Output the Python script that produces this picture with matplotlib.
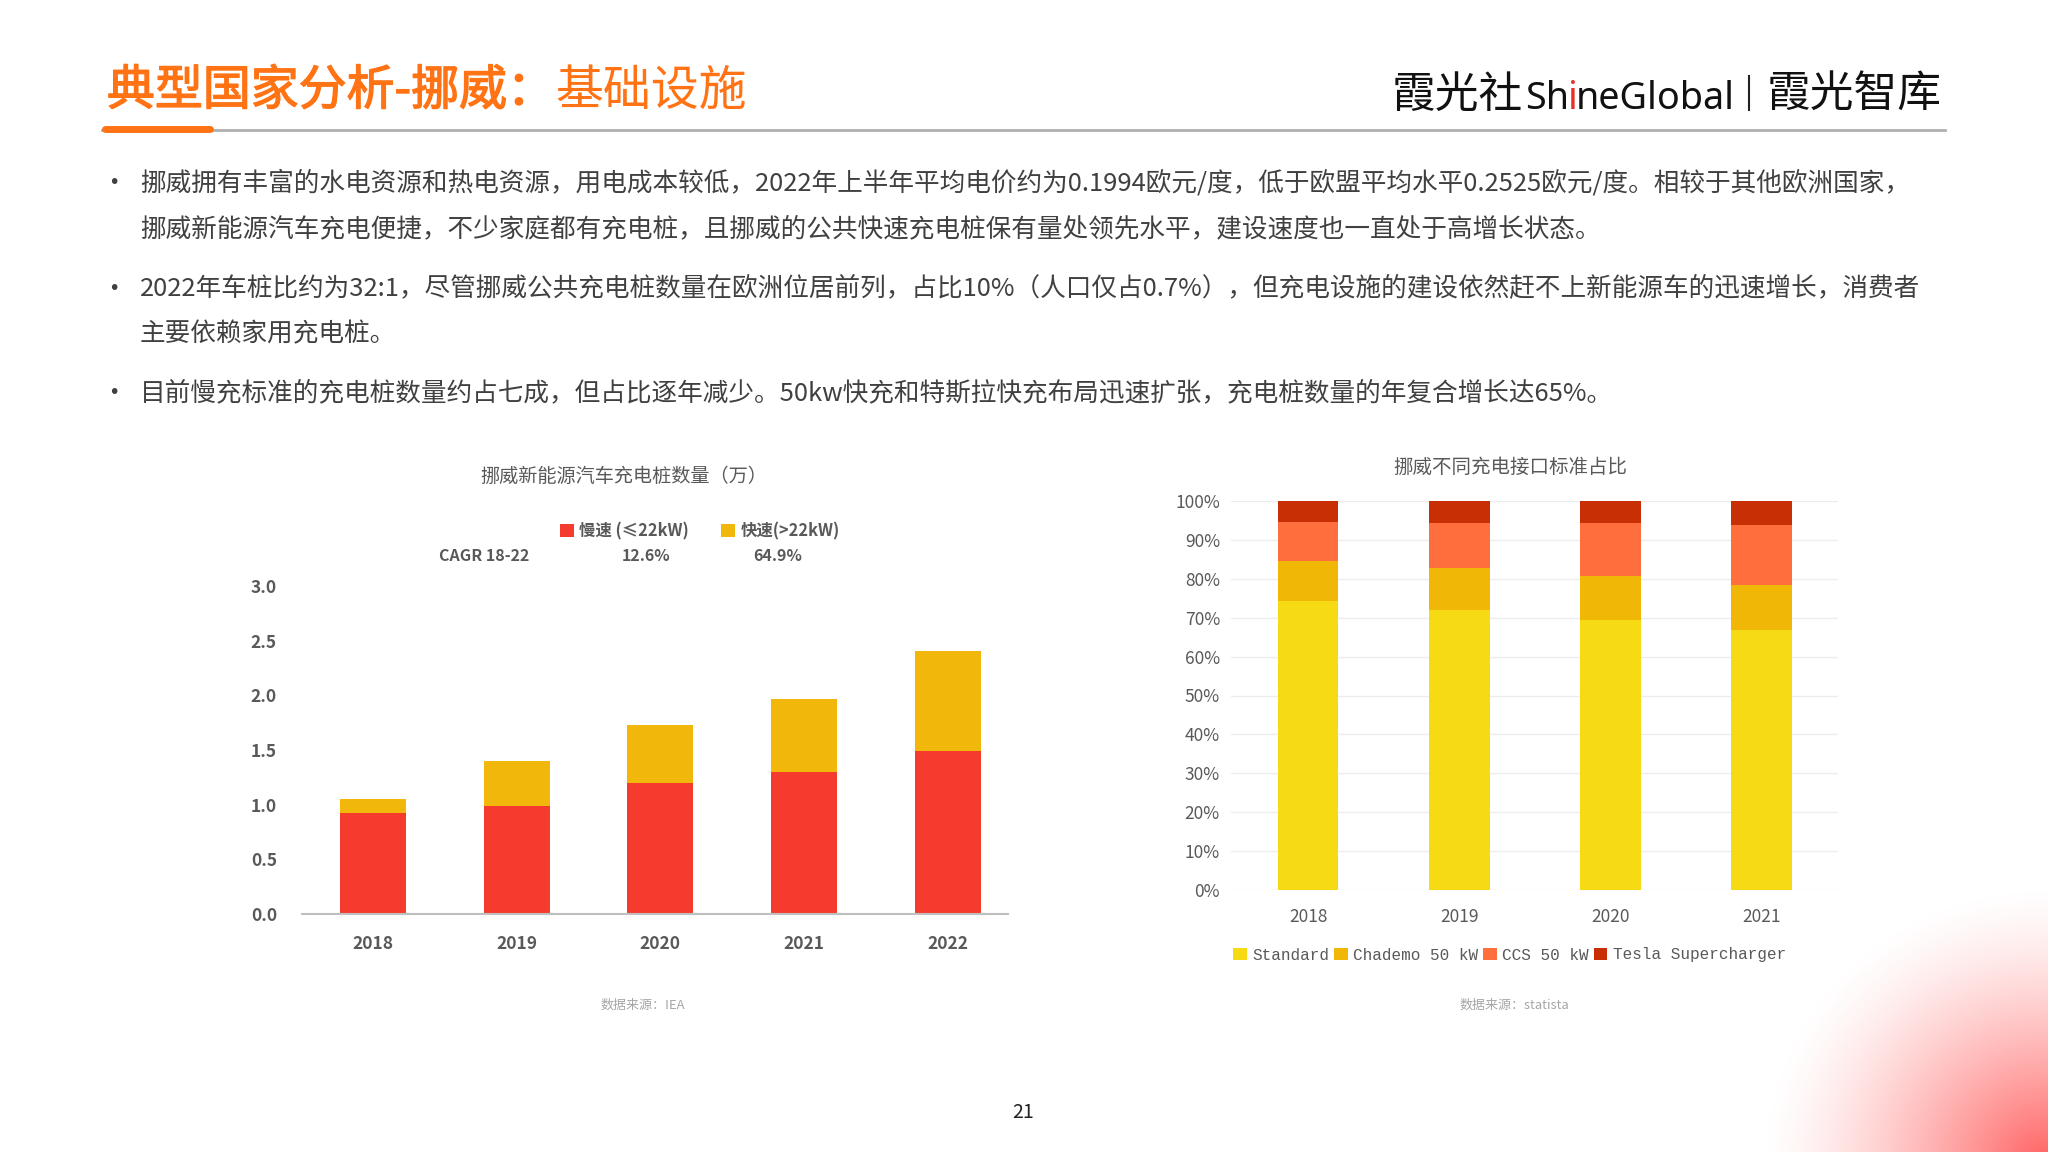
import numpy as np
import matplotlib.pyplot as plt
import matplotlib.patheffects as pe

plt.rcParams["font.family"] = ["Noto Sans CJK SC", "DejaVu Sans"]

W, H = 2048, 1152
ORANGE = "#FF7314"
TEXT = "#404040"
GRAY = "#595959"

# -----------------------------
# Data
# -----------------------------
years_left = ["2018", "2019", "2020", "2021", "2022"]
slow = [0.92, 0.99, 1.195, 1.30, 1.49]
fast = [0.13, 0.41, 0.535, 0.67, 0.92]

years_right = ["2018", "2019", "2020", "2021"]
shares = {
    "Standard": ([74.3, 72.0, 69.3, 66.8], "#F6DA14"),
    "Chademo 50 kW": ([10.3, 10.8, 11.4, 11.7], "#F1B707"),
    "CCS 50 kW": ([10.1, 11.5, 13.6, 15.4], "#FF6E3D"),
    "Tesla Supercharger": ([5.3, 5.7, 5.7, 6.1], "#C92F05"),
}

bullets = [
    (183, "挪威拥有丰富的水电资源和热电资源，用电成本较低，2022年上半年平均电价约为0.1994欧元/度，低于欧盟平均水平0.2525欧元/度。相较于其他欧洲国家，"),
    (229, "挪威新能源汽车充电便捷，不少家庭都有充电桩，且挪威的公共快速充电桩保有量处领先水平，建设速度也一直处于高增长状态。"),
    (288, "2022年车桩比约为32:1，尽管挪威公共充电桩数量在欧洲位居前列，占比10%（人口仅占0.7%），但充电设施的建设依然赶不上新能源车的迅速增长，消费者"),
    (334, "主要依赖家用充电桩。"),
    (393, "目前慢充标准的充电桩数量约占七成，但占比逐年减少。50kw快充和特斯拉快充布局迅速扩张，充电桩数量的年复合增长达65%。"),
]


def axes_px(fig, left, top, right, bottom):
    return fig.add_axes([left / W, 1 - bottom / H, (right - left) / W, (bottom - top) / H])


fig = plt.figure(figsize=(20.48, 11.52), dpi=100)

# -----------------------------
# Page background, text, header
# -----------------------------
page = axes_px(fig, 0, 0, W, H)
page.axis("off")

xx, yy = np.meshgrid(np.arange(W), np.arange(H))
dist = np.sqrt(((xx - 2045) / 285.0) ** 2 + ((yy - 1165) / 280.0) ** 2)
glow = np.zeros((H, W, 4))
glow[..., :3] = (1.0, 0.38, 0.38)
glow[..., 3] = np.clip(1 - dist, 0, 1) ** 1.4
page.imshow(glow, extent=(0, W, H, 0), aspect="auto", zorder=0)
page.set_xlim(0, W)
page.set_ylim(H, 0)

page.plot([102, 1945], [130, 130], color="#B0B0B0", lw=2, zorder=1)
page.plot([105, 210], [129, 129], color=ORANGE, lw=5, solid_capstyle="round", zorder=2)

page.text(107, 91, "典型国家分析-挪威：", color=ORANGE, fontsize=34.5, va="center",
          path_effects=[pe.withStroke(linewidth=1.0, foreground=ORANGE)])
page.text(555, 91, "基础设施", color=ORANGE, fontsize=34.5, va="center")

for y, line in bullets:
    page.text(140, y, line, color=TEXT, fontsize=18.45, va="center")
for y in [183, 288, 393]:
    page.text(114, y, "•", color=TEXT, fontsize=14, va="center", ha="center", family="DejaVu Sans")

# logo
page.text(1392, 95, "霞光社", color="#111111", fontsize=31.5, va="center")
page.text(1525, 99, "Sh", color="#111111", fontsize=27.2, va="center", family="Noto Sans", weight="light")
page.text(1568, 99, "i", color="#E8302A", fontsize=27.2, va="center", family="Noto Sans", weight="light")
page.text(1576, 99, "neGlobal", color="#111111", fontsize=27.2, va="center", family="Noto Sans", weight="light")
page.plot([1749, 1749], [76, 110], color="#222222", lw=1.5)
page.text(1767, 95, "霞光智库", color="#111111", fontsize=31.5, va="center")

page.text(624, 476, "挪威新能源汽车充电桩数量（万）", color=GRAY, fontsize=13.8, ha="center", va="center")
page.text(1510, 467, "挪威不同充电接口标准占比", color=GRAY, fontsize=14, ha="center", va="center")
page.text(643, 1005, "数据来源：IEA", color="#A6A6A6", fontsize=9.4, ha="center", va="center")
page.text(1514, 1005, "数据来源：statista", color="#A6A6A6", fontsize=9.4, ha="center", va="center")
page.text(1023, 1113, "21", color="#222222", fontsize=14, ha="center", va="center")

for x, label in [(484, "CAGR 18-22"), (646, "12.6%"), (778, "64.9%")]:
    page.text(x, 556, label, color=GRAY, fontsize=11.5, weight="bold", ha="center", va="center")

# -----------------------------
# Left chart: charger count
# -----------------------------
ax1 = axes_px(fig, 302, 586, 1008, 914)
ax1.patch.set_alpha(0)
x1 = np.arange(len(years_left))
ax1.bar(x1, slow, width=0.46, color="#F53B2E", label="慢速 (≤22kW)")
ax1.bar(x1, fast, width=0.46, bottom=slow, color="#F1B70A", label="快速(>22kW)")
ax1.set_xlim(-0.495, 4.42)
ax1.set_ylim(0, 3.0)
ax1.set_yticks(np.arange(0, 3.01, 0.5))
ax1.set_xticks(x1, years_left)
ax1.tick_params(axis="both", length=0, labelsize=12.5, labelcolor=GRAY)
ax1.tick_params(axis="y", pad=18)
ax1.tick_params(axis="x", pad=15)
for lab in ax1.get_xticklabels() + ax1.get_yticklabels():
    lab.set_fontweight("bold")
for side in ["top", "right", "left"]:
    ax1.spines[side].set_visible(False)
ax1.spines["bottom"].set_color("#BFBFBF")
ax1.spines["bottom"].set_linewidth(1.5)
leg1 = ax1.legend(
    loc="center left", bbox_to_anchor=(560 / W, 1 - 531 / H), bbox_transform=fig.transFigure,
    ncol=2, frameon=False, handlelength=0.85, handleheight=0.85, handletextpad=0.3,
    columnspacing=2.0, borderpad=0, borderaxespad=0, prop={"size": 11.8, "weight": "bold"},
)
for t in leg1.get_texts():
    t.set_color(GRAY)

# -----------------------------
# Right chart: connector share
# -----------------------------
ax2 = axes_px(fig, 1231, 501, 1838, 890)
ax2.patch.set_alpha(0)
x2 = np.arange(len(years_right))
bottom = np.zeros(len(years_right))
for name, (vals, colour) in shares.items():
    ax2.bar(x2, vals, width=0.4, bottom=bottom, color=colour, label=name, zorder=3)
    bottom += np.array(vals)
ax2.set_xlim(-0.51, 3.505)
ax2.set_ylim(0, 100)
ax2.set_yticks(np.arange(0, 101, 10))
ax2.set_yticklabels([f"{v}%" for v in range(0, 101, 10)])
ax2.set_xticks(x2, years_right)
ax2.tick_params(axis="both", length=0, labelsize=12.5, labelcolor=GRAY)
ax2.tick_params(axis="y", pad=8)
ax2.tick_params(axis="x", pad=13)
ax2.grid(axis="y", color="#EDEDED", lw=1, zorder=0)
for side in ["top", "right", "left", "bottom"]:
    ax2.spines[side].set_visible(False)
leg2 = ax2.legend(
    loc="center left", bbox_to_anchor=(1233 / W, 1 - 955 / H), bbox_transform=fig.transFigure,
    ncol=4, frameon=False, handlelength=0.85, handleheight=0.85, handletextpad=0.35,
    columnspacing=0.3, borderpad=0, borderaxespad=0, prop={"size": 11.5, "family": "Liberation Mono"},
)
for t in leg2.get_texts():
    t.set_color(GRAY)

fig.savefig("out.png", dpi=100)
plt.close(fig)
